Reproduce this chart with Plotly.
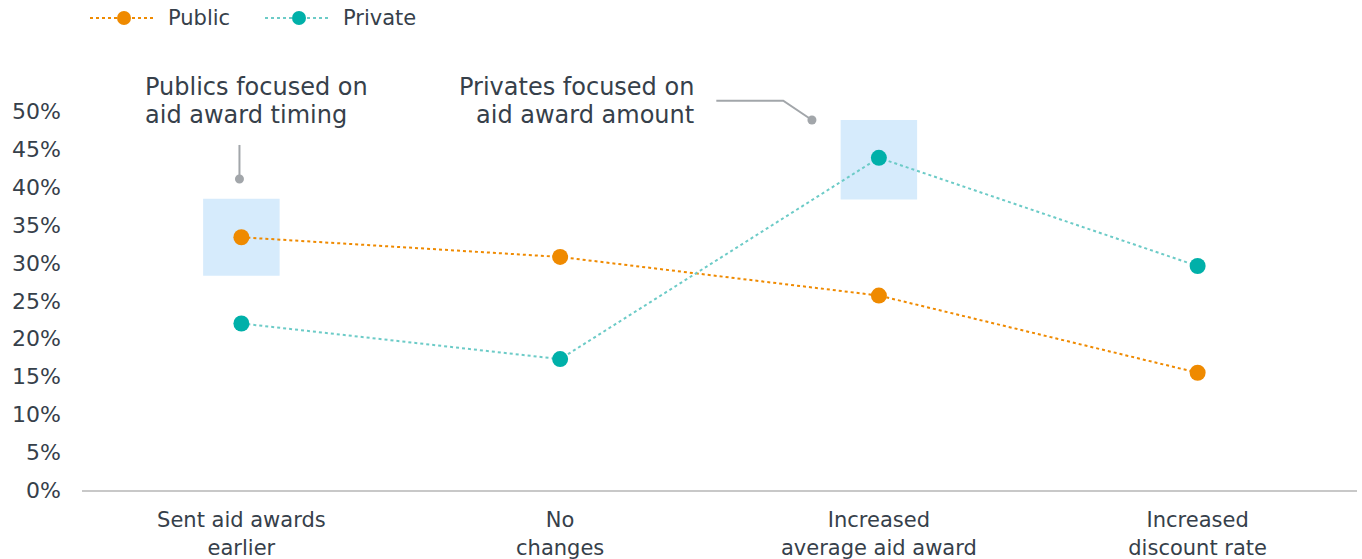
import plotly.graph_objects as go

categories = ["Sent aid awards<br>earlier", "No<br>changes", "Increased<br>average aid award", "Increased<br>discount rate"]
series_names = ["Public", "Private"]
public_vals = [33.4, 30.8, 25.7, 15.5]
private_vals = [22.0, 17.3, 43.9, 29.6]
y_ticks = [0, 5, 10, 15, 20, 25, 30, 35, 40, 45, 50]
y_tick_labels = [f"{v}%" for v in y_ticks]
note_public = ["Publics focused on", "aid award timing"]
note_private = ["Privates focused on", "aid award amount"]

ORANGE = "#ef8a00"
TEAL = "#00b0a9"
TEAL_LINE = "#6ccbc7"
TEXT = "#36404a"
GRAY = "#a2a6aa"
HILITE = "#d6ebfc"
FONT = "Verdana, DejaVu Sans, sans-serif"

W, H = 1362, 559
ML, MR, MT, MB = 82, 5, 36, 69
PW = W - ML - MR
PH = H - MT - MB


def px_x(px):
    return (px - ML) / PW


def px_y(py):
    return (H - MB - py) / PH


x_idx = list(range(len(categories)))

fig = go.Figure()
fig.add_trace(go.Scatter(
    x=x_idx, y=public_vals, name=series_names[0], mode="lines+markers",
    line=dict(color=ORANGE, width=2, dash="dot"),
    marker=dict(color=ORANGE, size=16), showlegend=False,
))
fig.add_trace(go.Scatter(
    x=x_idx, y=private_vals, name=series_names[1], mode="lines+markers",
    line=dict(color=TEAL_LINE, width=2, dash="dot"),
    marker=dict(color=TEAL, size=16), showlegend=False,
))

shapes = [
    dict(type="rect", xref="x", yref="y", x0=-0.12, x1=0.12, y0=28.3, y1=38.5,
         fillcolor=HILITE, line=dict(width=0), layer="below"),
    dict(type="rect", xref="x", yref="y", x0=1.88, x1=2.12, y0=38.4, y1=48.9,
         fillcolor=HILITE, line=dict(width=0), layer="below"),
    # connector 1
    dict(type="line", xref="x", yref="y", x0=-0.006, x1=-0.006, y0=45.6, y1=41.3,
         line=dict(color=GRAY, width=2)),
    dict(type="circle", xref="x", yref="y", xsizemode="pixel", ysizemode="pixel",
         xanchor=-0.006, yanchor=41.1, x0=-4.5, x1=4.5, y0=-4.5, y1=4.5,
         fillcolor=GRAY, line=dict(width=0)),
    # connector 2
    dict(type="path", xref="x", yref="y",
         path="M 1.49 51.45 L 1.70 51.45 L 1.79 48.9",
         line=dict(color=GRAY, width=2)),
    dict(type="circle", xref="x", yref="y", xsizemode="pixel", ysizemode="pixel",
         xanchor=1.79, yanchor=48.9, x0=-4.5, x1=4.5, y0=-4.5, y1=4.5,
         fillcolor=GRAY, line=dict(width=0)),
]

annotations = []
note_line_y = [53.25, 49.55]
for txt, yy in zip(note_public, note_line_y):
    annotations.append(dict(x=-0.3075, y=yy, xref="x", yref="y", xanchor="left",
                            yanchor="middle", align="left", showarrow=False, text=txt,
                            font=dict(family=FONT, size=24, color=TEXT)))
for txt, yy in zip(note_private, note_line_y):
    annotations.append(dict(x=1.4275, y=yy, xref="x", yref="y", xanchor="right",
                            yanchor="middle", align="right", showarrow=False, text=txt,
                            font=dict(family=FONT, size=24, color=TEXT)))

# custom legend (longer dotted symbols like the reference)
legend_items = [
    (series_names[0], ORANGE, ORANGE, 90),
    (series_names[1], TEAL_LINE, TEAL, 265),
]
ly = px_y(18)
for name, lc, mc, x0 in legend_items:
    shapes.append(dict(type="line", xref="paper", yref="paper",
                       x0=px_x(x0), x1=px_x(x0 + 65), y0=ly, y1=ly,
                       line=dict(color=lc, width=2, dash="dot")))
    shapes.append(dict(type="circle", xref="paper", yref="paper",
                       xsizemode="pixel", ysizemode="pixel",
                       xanchor=px_x(x0 + 34), yanchor=ly,
                       x0=-7, x1=7, y0=-7, y1=7,
                       fillcolor=mc, line=dict(width=0)))
    annotations.append(dict(x=px_x(x0 + 76), y=ly, xref="paper", yref="paper",
                            xanchor="left", yanchor="middle", showarrow=False,
                            text=name, font=dict(family=FONT, size=21, color=TEXT)))

fig.update_layout(
    width=W, height=H,
    margin=dict(l=ML, r=MR, t=MT, b=MB, autoexpand=False),
    paper_bgcolor="white", plot_bgcolor="white",
    font=dict(family=FONT, size=21, color=TEXT),
    showlegend=False,
    xaxis=dict(
        range=[-0.5, 3.5], tickmode="array", tickvals=x_idx, ticktext=categories,
        showgrid=False, zeroline=False, showline=True, linecolor="#c8c8c8", linewidth=2,
        ticks="", tickfont=dict(family=FONT, size=21, color=TEXT),
        automargin=False, ticklabelstandoff=10,
    ),
    yaxis=dict(
        range=[0, 60], tickmode="array", tickvals=y_ticks, ticktext=y_tick_labels,
        showgrid=False, zeroline=False, showline=False, ticks="",
        tickfont=dict(family=FONT, size=22, color=TEXT),
        automargin=False, ticklabelstandoff=20,
    ),
    shapes=shapes,
    annotations=annotations,
    hovermode=False,
)

fig.write_html("out.html", config={"displayModeBar": False},
               post_script="document.body.style.margin='0';")
